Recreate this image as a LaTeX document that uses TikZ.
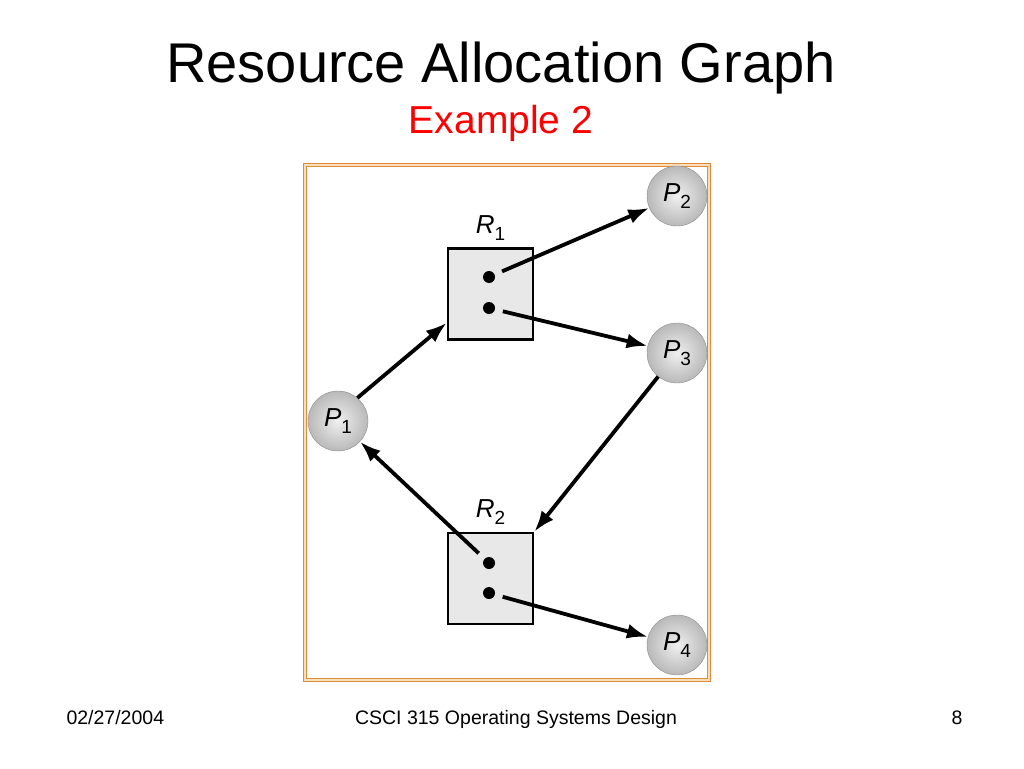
\documentclass[tikz,border=0pt]{standalone}
\usepackage{fontspec}
\setmainfont{Liberation Sans}
\usetikzlibrary{positioning}
\usetikzlibrary{arrows.meta}
\definecolor{frameorange}{RGB}{222,140,55}
\definecolor{framelight}{RGB}{250,222,185}
\tikzset{procnode/.style={circle,
                        minimum size=60pt,
                        inner sep=0pt,
                        draw=gray!90,
                        shading=radial,
                        inner color=gray!12,
                        outer color=gray!55,
                        font=\fontsize{26}{26}\selectfont
                        },
        resnode/.style={rectangle,
                        minimum width=85pt,
                        minimum height=91pt,
                        fill=gray!18,
                        draw=black,
                        line width=2.6pt
                        },
        holddot/.style={circle, fill=black, minimum size=12pt, inner sep=0pt},
        graphedge/.style={-{Latex[length=21pt,width=15pt]}, line width=3.8pt},
        footertext/.style={anchor=base, font=\fontsize{19.5}{19.5}\selectfont},
}
\newcommand{\gname}[2]{\textit{#1}\raisebox{-7pt}{\fontsize{19}{19}\selectfont #2}}

\begin{document}
\begin{tikzpicture}
    [x=1pt,y=-1pt]
    \useasboundingbox (0,0) rectangle (1024,768);

    % TITLE
    \node[anchor=base, font=\fontsize{56}{56}\selectfont] (title) at (501,82) {Resource Allocation Graph};
    \node[anchor=base, red, font=\fontsize{39}{39}\selectfont] (subtitle) at (501,133) {Example 2};

    % FRAME
    \node[draw=frameorange, double=framelight, double distance=1.5pt, line width=1.2pt,
          minimum width=404pt, minimum height=515pt, inner sep=0pt] (frame) at (507,422.5) {};

    % RESOURCES
    \node[resnode] (R1) at (490.5,294) {};
    \node[resnode] (R2) at (490.5,578.5) {};
    \node[above=7pt of R1, inner sep=0pt, font=\fontsize{26}{26}\selectfont] (R1label) {\gname{R}{1}};
    \node[above=7pt of R2, inner sep=0pt, font=\fontsize{26}{26}\selectfont] (R2label) {\gname{R}{2}};

    \node[holddot] (R1dotA) at (489,277) {};
    \node[holddot] (R1dotB) at (489,308) {};
    \node[holddot] (R2dotA) at (489,563) {};
    \node[holddot] (R2dotB) at (489,593) {};

    % PROCESSES
    \node[procnode] (P1) at (338,421) {\gname{P}{1}};
    \node[procnode] (P2) at (677,196) {\gname{P}{2}};
    \node[procnode] (P3) at (677,353) {\gname{P}{3}};
    \node[procnode] (P4) at (677,645) {\gname{P}{4}};

    % EDGES
    \draw[graphedge] (P1.50) -- ([yshift=18pt]R1.south west);
    \draw[graphedge, shorten <=8pt] (R1dotA) -- (P2);
    \draw[graphedge, shorten <=8pt] (R1dotB) -- (P3);
    \draw[graphedge] (P3) -- (R2.north east);
    \draw[graphedge, shorten <=8pt] (R2dotA) -- (P1);
    \draw[graphedge, shorten <=8pt] (R2dotB) -- (P4);

    % FOOTER
    \node[footertext, anchor=base west] (date) at (63,724) {02/27/2004};
    \node[footertext] (course) at (516,724) {CSCI 315 Operating Systems Design};
    \node[footertext] (pagenum) at (957,724) {8};

\end{tikzpicture}
\end{document}
